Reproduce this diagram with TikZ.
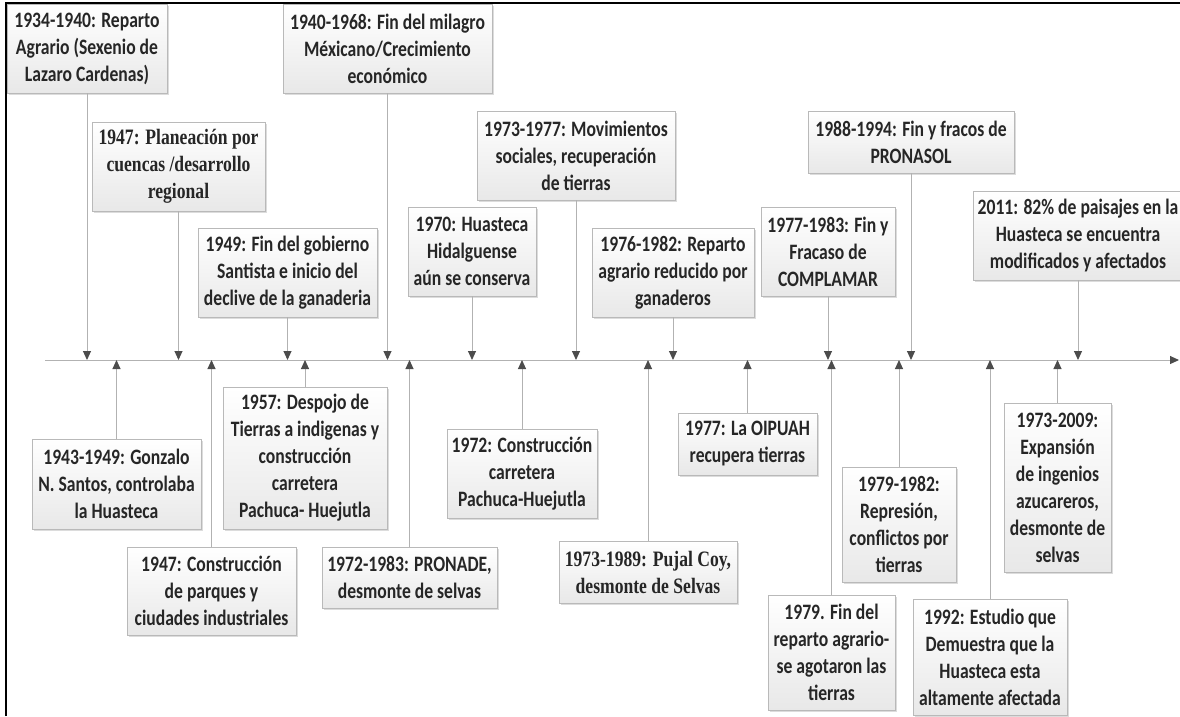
\documentclass[tikz,border=0pt]{standalone}
\usepackage{fontspec}
\setmainfont{Carlito}[FakeStretch=0.8]
\newfontfamily\romana{Liberation Serif}[FakeStretch=0.8]
\usetikzlibrary{arrows.meta,shadows}

\tikzset{
  evento/.style={draw=gray!55, line width=0.8pt, top color=white, bottom color=gray!18,
    drop shadow={shadow xshift=2pt, shadow yshift=-2pt, opacity=0.3, fill=black!45},
    align=center, inner sep=2pt, text=black!85,
    font=\fontsize{22}{27}\selectfont\bfseries},
  romana/.style={font=\romana\fontsize{22}{27}\selectfont\bfseries},
  flecha/.style={draw=gray!60, line width=1pt,
    -{Triangle[width=8pt,length=9pt,color=black!70]}},
}

\begin{document}
\begin{tikzpicture}[x=1pt,y=-1pt]
\useasboundingbox (0,0) rectangle (1180,716);
% marco
\draw[line width=2pt] (6,716) -- (6,3) -- (1180,3);
% eje del tiempo
\coordinate (ini) at (45,360);
\coordinate (fin) at (1179,360);
\draw[flecha] (ini) -- (fin);

% eventos arriba del eje
\node[evento, minimum width=160pt, minimum height=89pt] (reparto) at (87,48.5)
  {1934-1940: Reparto\\Agrario (Sexenio de\\Lazaro Cardenas)};
\node[evento, romana, minimum width=173pt, minimum height=89pt] (planeacion) at (178.5,166.5)
  {1947: Planeación por\\cuencas /desarrollo\\regional};
\node[evento, minimum width=179pt, minimum height=89pt] (santista) at (287.5,272.5)
  {1949: Fin del gobierno\\Santista e inicio del\\declive de la ganaderia};
\node[evento, minimum width=209pt, minimum height=89pt] (milagro) at (387.5,48.5)
  {1940-1968: Fin del milagro\\Méxicano/Crecimiento\\económico};
\node[evento, minimum width=128pt, minimum height=89pt] (hidalguense) at (472,251.5)
  {1970: Huasteca\\Hidalguense\\aún se conserva};
\node[evento, minimum width=198pt, minimum height=89pt] (movimientos) at (576,155.5)
  {1973-1977: Movimientos\\sociales, recuperación\\de tierras};
\node[evento, minimum width=162pt, minimum height=89pt] (ganaderos) at (673,272.5)
  {1976-1982: Reparto\\agrario reducido por\\ganaderos};
\node[evento, minimum width=134pt, minimum height=89pt] (complamar) at (828,251.5)
  {1977-1983: Fin y\\Fracaso de\\COMPLAMAR};
\node[evento, minimum width=206pt, minimum height=62pt] (pronasol) at (911,142)
  {1988-1994: Fin y fracos de\\PRONASOL};
\node[evento, minimum width=210pt, minimum height=89pt] (paisajes) at (1078,235.5)
  {2011: 82\% de paisajes en la\\Huasteca se encuentra\\modificados y afectados};

% eventos abajo del eje
\node[evento, minimum width=169pt, minimum height=90pt] (gonzalo) at (116.5,484)
  {1943-1949: Gonzalo\\N. Santos, controlaba\\la Huasteca};
\node[evento, minimum width=169pt, minimum height=88pt] (parques) at (211.5,591)
  {1947: Construcción\\de parques y\\ciudades industriales};
\node[evento, minimum width=164pt, minimum height=142pt] (despojo) at (305,458)
  {1957: Despojo de\\Tierras a indigenas y\\construcción\\carretera\\Pachuca- Huejutla};
\node[evento, minimum width=175pt, minimum height=61pt] (pronade) at (409.5,577.5)
  {1972-1983: PRONADE,\\desmonte de selvas};
\node[evento, minimum width=150pt, minimum height=89pt] (carretera) at (522,473.5)
  {1972: Construcción\\carretera\\Pachuca-Huejutla};
\node[evento, romana, minimum width=178pt, minimum height=62pt] (pujal) at (648,572)
  {1973-1989: Pujal Coy,\\desmonte de Selvas};
\node[evento, minimum width=139pt, minimum height=62pt] (oipuah) at (747.5,444)
  {1977: La OIPUAH\\recupera tierras};
\node[evento, minimum width=127pt, minimum height=115pt] (agotaron) at (831.5,652.5)
  {1979. Fin del\\reparto agrario-\\se agotaron las\\tierras};
\node[evento, minimum width=114pt, minimum height=115pt] (represion) at (899,524.5)
  {1979-1982:\\Represión,\\conflictos por\\tierras};
\node[evento, minimum width=154pt, minimum height=116pt] (estudio) at (990,657)
  {1992: Estudio que\\Demuestra que la\\Huasteca esta\\altamente afectada};
\node[evento, minimum width=107pt, minimum height=169pt] (ingenios) at (1057.5,487.5)
  {1973-2009:\\Expansión\\de ingenios\\azucareros,\\desmonte de\\selvas};

% conectores al eje
\foreach \e in {reparto,planeacion,santista,milagro,hidalguense,movimientos,ganaderos,complamar,pronasol,paisajes}
  \draw[flecha] (\e.south) -- (\e.south |- ini);
\foreach \e in {gonzalo,parques,despojo,pronade,carretera,pujal,oipuah,agotaron,represion,estudio,ingenios}
  \draw[flecha] (\e.north) -- (\e.north |- ini);
\end{tikzpicture}
\end{document}
